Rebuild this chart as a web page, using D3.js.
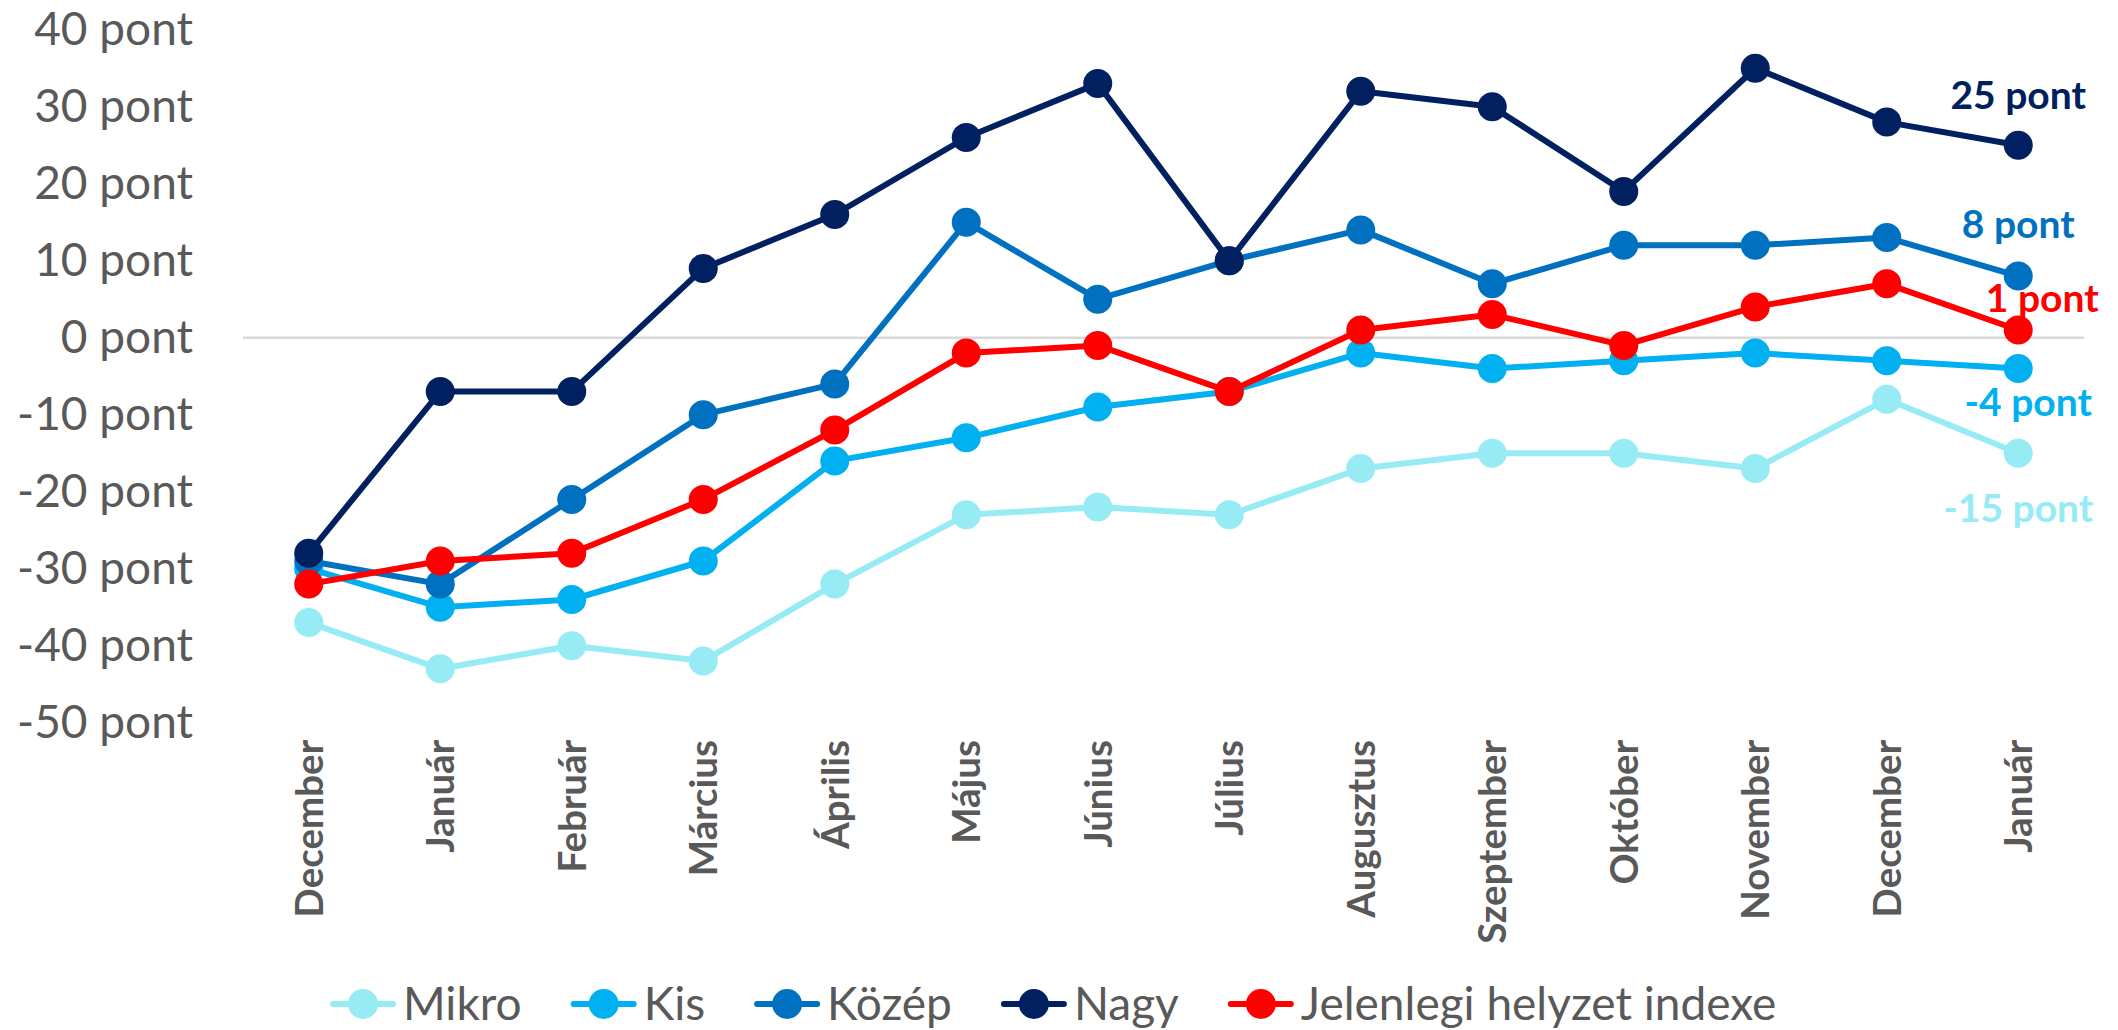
<!DOCTYPE html>
<html>
<head>
<meta charset="utf-8">
<script src="https://cdn.jsdelivr.net/npm/d3@7"></script>
<style>
  body { margin: 0; background: #fff; }
  svg { display: block; }
  text { font-family: Lato, "Open Sans", sans-serif; }
</style>
</head>
<body>
<svg id="chart"></svg>
<script>
// months on the category axis
const months = ['December', 'Január', 'Február', 'Március', 'Április', 'Május', 'Június',
  'Július', 'Augusztus', 'Szeptember', 'Október', 'November', 'December', 'Január'];

const mikro = [-37, -43, -40, -42, -32, -23, -22, -23, -17, -15, -15, -17, -8, -15];
const kis = [-30, -35, -34, -29, -16, -13, -9, -7, -2, -4, -3, -2, -3, -4];
const kozep = [-29, -32, -21, -10, -6, 15, 5, 10, 14, 7, 12, 12, 13, 8];
const nagy = [-28, -7, -7, 9, 16, 26, 33, 10, 32, 30, 19, 35, 28, 25];
const jelenlegi = [-32, -29, -28, -21, -12, -2, -1, -7, 1, 3, -1, 4, 7, 1];

const yTicks = [40, 30, 20, 10, 0, -10, -20, -30, -40, -50];

const series = [
  { name: 'Mikro', values: mikro, color: '#97EBF5', labelDx: 0, labelDy: 55 },
  { name: 'Kis', values: kis, color: '#00B0F0', labelDx: 10, labelDy: 34 },
  { name: 'Közép', values: kozep, color: '#0070C0', labelDx: 0, labelDy: -52 },
  { name: 'Nagy', values: nagy, color: '#002060', labelDx: 0, labelDy: -50 },
  { name: 'Jelenlegi helyzet indexe', values: jelenlegi, color: '#FF0000', labelDx: 24, labelDy: -32 }
];

const width = 2118, height = 1030;
const grey = '#595959';

const svg = d3.select('#chart')
  .attr('width', width)
  .attr('height', height);

const x = d3.scalePoint()
  .domain(d3.range(months.length))
  .range([243, 2084])
  .padding(0.5);

const y = d3.scaleLinear()
  .domain([-50, 40])
  .range([722.7, 29.7]);

// zero line
svg.append('line')
  .attr('x1', 243).attr('x2', 2084)
  .attr('y1', y(0)).attr('y2', y(0))
  .attr('stroke', '#D9D9D9')
  .attr('stroke-width', 2.5);

// y axis labels
const yAxis = svg.append('g')
  .attr('transform', 'translate(193,0)')
  .call(d3.axisLeft(y).tickValues(yTicks).tickSize(0).tickPadding(0).tickFormat(d => d + ' pont'));
yAxis.select('.domain').remove();
yAxis.selectAll('text')
  .attr('fill', grey)
  .style('font-size', '46px')
  .style('font-family', 'Lato, "Open Sans", sans-serif');

// x axis labels, rotated
const xAxis = svg.append('g')
  .attr('transform', 'translate(0,740)')
  .call(d3.axisBottom(x).tickSize(0).tickFormat(i => months[i]));
xAxis.select('.domain').remove();
xAxis.selectAll('text')
  .attr('fill', grey)
  .attr('transform', 'rotate(-90)')
  .attr('x', 0)
  .attr('y', 0)
  .attr('dy', '0.35em')
  .style('text-anchor', 'end')
  .style('font-size', '38.5px')
  .style('font-weight', 'bold')
  .style('font-family', 'Lato, "Open Sans", sans-serif');

const line = d3.line()
  .x((d, i) => x(i))
  .y(d => y(d));

const groups = svg.selectAll('g.series')
  .data(series)
  .enter().append('g')
  .attr('class', 'series');

groups.append('path')
  .attr('d', d => line(d.values))
  .attr('fill', 'none')
  .attr('stroke', d => d.color)
  .attr('stroke-width', 6)
  .attr('stroke-linejoin', 'round');

groups.selectAll('circle')
  .data(d => d.values.map(v => ({ v: v, color: d.color })))
  .enter().append('circle')
  .attr('cx', (d, i) => x(i))
  .attr('cy', d => y(d.v))
  .attr('r', 14.5)
  .attr('fill', d => d.color);

// end labels
const last = months.length - 1;
series.forEach(s => {
  svg.append('text')
    .attr('x', x(last) + s.labelDx)
    .attr('y', y(s.values[last]) + s.labelDy)
    .attr('dy', '0.35em')
    .style('text-anchor', 'middle')
    .style('font-size', '39px')
    .style('font-weight', 'bold')
    .attr('fill', s.color)
    .text(s.values[last] + ' pont');
});

// legend
const legend = svg.append('g').attr('transform', 'translate(333,1004)');
let lx = 0;
series.forEach(s => {
  const item = legend.append('g').attr('transform', 'translate(' + lx + ',0)');
  item.append('line')
    .attr('x1', 0).attr('x2', 60)
    .attr('stroke', s.color)
    .attr('stroke-width', 6)
    .attr('stroke-linecap', 'round');
  item.append('circle')
    .attr('cx', 30)
    .attr('r', 15)
    .attr('fill', s.color);
  const t = item.append('text')
    .attr('x', 70)
    .attr('dy', '0.35em')
    .attr('fill', grey)
    .style('font-size', '46px')
    .text(s.name);
  lx += 70 + t.node().getComputedTextLength() + 52;
});
</script>
</body>
</html>
